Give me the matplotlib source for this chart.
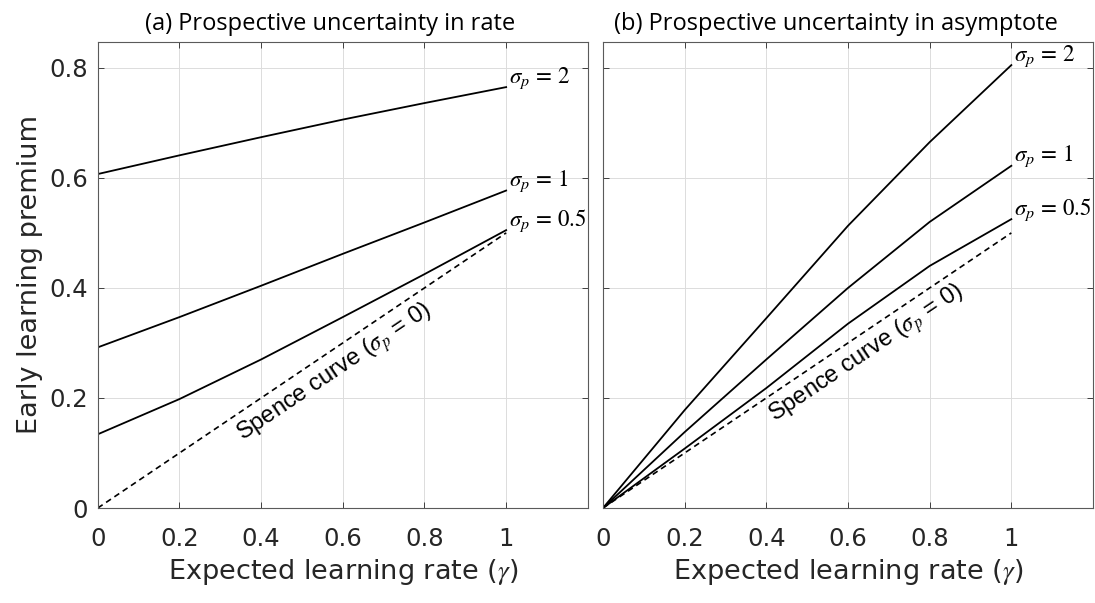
import numpy as np
import matplotlib.pyplot as plt

# ---------------------
# Dati
# ---------------------
gamma = [0.0, 0.2, 0.4, 0.6, 0.8, 1.0]

# (a) incertezza sul tasso
rate_s2 = [0.607, 0.641, 0.674, 0.706, 0.736, 0.765]
rate_s1 = [0.292, 0.347, 0.404, 0.462, 0.519, 0.577]
rate_s05 = [0.134, 0.198, 0.270, 0.347, 0.425, 0.505]

# (b) incertezza sull'asintoto
asym_s2 = [0.0, 0.178, 0.345, 0.513, 0.665, 0.805]
asym_s1 = [0.0, 0.138, 0.270, 0.400, 0.520, 0.622]
asym_s05 = [0.0, 0.108, 0.218, 0.335, 0.440, 0.525]

# curva di Spence (sigma_p = 0)
spence = [0.0, 0.1, 0.2, 0.3, 0.4, 0.5]

sigma_labels = ["2", "1", "0.5"]
titles = ["(a) Prospective uncertainty in rate",
          "(b) Prospective uncertainty in asymptote"]
xticks = [0, 0.2, 0.4, 0.6, 0.8, 1]
yticks = [0, 0.2, 0.4, 0.6, 0.8]

# ---------------------
# Stile
# ---------------------
plt.rcParams['font.family'] = ['DejaVu Sans']
plt.rcParams['mathtext.fontset'] = 'stix'
axcol = '#262626'
XMAX, YMAX = 1.2, 0.847

fig = plt.figure(figsize=(10.95, 6.03), dpi=100)
W, H = 1095, 603
ax_a = fig.add_axes([97.8 / W, 95 / H, 490 / W, 466 / H])
ax_b = fig.add_axes([603 / W, 95 / H, 490 / W, 466 / H])

# angolo della curva di Spence in pixel (stessa scala nei due pannelli)
ang = np.degrees(np.arctan2(0.5 / YMAX * 466, 1 / XMAX * 490))

panels = [
    (ax_a, [rate_s2, rate_s1, rate_s05], (0.5865, 0.238)),
    (ax_b, [asym_s2, asym_s1, asym_s05], (0.654, 0.272)),
]

for i, (ax, curves, spence_pos) in enumerate(panels):
    for y, lab in zip(curves, sigma_labels):
        ax.plot(gamma, y, color='black', linewidth=1.3)
        ax.text(1.006, y[-1] + 0.017, r"$\sigma_p\,=\,%s$" % lab,
                fontsize=16.5, ha='left', va='center')
    ax.plot(gamma, spence, color='black', linewidth=1.2, dashes=(3.5, 2.5))

    # etichetta ruotata sotto la curva di Spence
    ax.text(spence_pos[0], spence_pos[1], r"Spence curve ($\sigma_p$ = 0)",
            fontsize=17, family='Liberation Sans', ha='center', va='baseline',
            rotation=ang, rotation_mode='anchor', color='black')

    ax.set_xlim(0, XMAX)
    ax.set_ylim(0, YMAX)
    ax.set_xticks(xticks)
    ax.set_xticklabels([f"{t:g}" for t in xticks])
    ax.set_yticks(yticks)
    ax.set_yticklabels([f"{t:g}" for t in yticks])
    ax.grid(True, color='#dcdcdc', linewidth=0.7)
    ax.set_axisbelow(True)
    ax.tick_params(direction='in', length=4, width=0.6, colors=axcol,
                   top=True, right=True, labelsize=17.5)
    ax.tick_params(axis='x', pad=14)
    ax.tick_params(axis='y', pad=7)
    for sp in ax.spines.values():
        sp.set_color('#5a5a5a')
        sp.set_linewidth(0.8)

    ax.set_xlabel(r"Expected learning rate ($\gamma$)", fontsize=19.5, color=axcol)
    ax.xaxis.set_label_coords(0.5, -0.105)

    ax.text(0.475, 1.026, titles[i], transform=ax.transAxes, fontsize=17,
            family='Open Sans', ha='center', va='baseline')

ax_b.tick_params(labelleft=False)
ax_a.set_ylabel("Early learning premium", fontsize=19.5, color=axcol)
ax_a.yaxis.set_label_coords(-0.112, 0.5)

plt.savefig("out.png", dpi=100)
